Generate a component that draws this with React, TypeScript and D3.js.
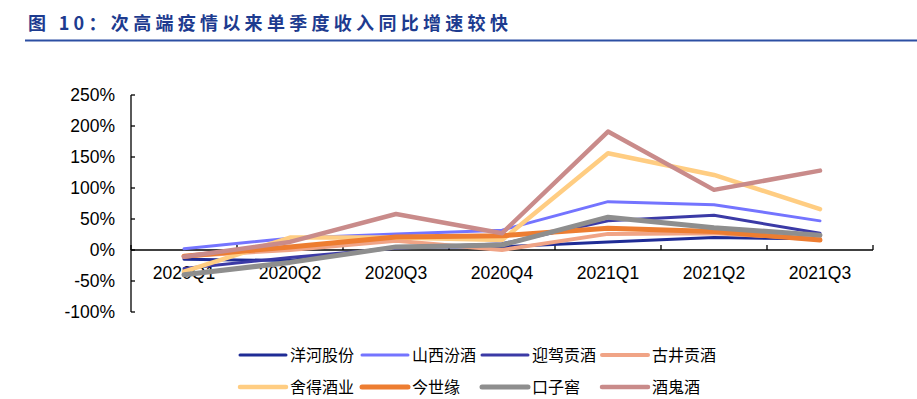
import React from "react";
import * as d3 from "d3";

const categories = ["2020Q1", "2020Q2", "2020Q3", "2020Q4", "2021Q1", "2021Q2", "2021Q3"];
const yTicks = [-100, -50, 0, 50, 100, 150, 200, 250];
const seriesNames = ["洋河股份", "山西汾酒", "迎驾贡酒", "古井贡酒", "舍得酒业", "今世缘", "口子窖", "酒鬼酒"];
const yanghe = [-15, -17, 5, 5, 13, 20, 18];
const fenjiu = [2, 19, 26, 32, 78, 73, 47];
const yingjia = [-30, -12, 3, 10, 47, 56, 27];
const gujing = [-10, 0, 15, 0, 26, 27, 18];
const shede = [-35, 20, 20, 16, 156, 121, 66];
const jinshiyuan = [-10, 5, 21, 23, 35, 30, 16];
const kouzijiao = [-40, -20, 5, 8, 53, 36, 24];
const jiuguijiu = [-11, 13, 58, 27, 191, 97, 128];
const seriesValues = [yanghe, fenjiu, yingjia, gujing, shede, jinshiyuan, kouzijiao, jiuguijiu];
const colors = ["#1f2c96", "#7474ff", "#3b3aa6", "#f0a486", "#ffcd82", "#ed7d31", "#8e8e8e", "#c98b8a"];
const widths = [3, 3, 3, 4, 4.5, 5, 5, 4.5];

const W = 917, H = 399;
const left = 131, right = 873, top = 95, bottom = 312;

export default function App() {
  const x = d3.scaleBand<string>().domain(categories).range([left, right]).padding(0);
  const y = d3.scaleLinear().domain([-100, 250]).range([bottom, top]);
  const cx = (c: string) => (x(c) as number) + x.bandwidth() / 2;
  const line = d3
    .line<number>()
    .x((_, i) => cx(categories[i]))
    .y((v) => y(v));
  const boundaries = categories.map((c) => x(c) as number).concat([right]);
  const font = "'Liberation Sans', Arial, sans-serif";
  const cjk = "'Noto Sans CJK SC', sans-serif";
  const legendX = [240, 362, 482, 602];
  const legendY = [355, 387];
  return (
    <svg width={W} height={H} style={{ position: "absolute", left: 0, top: 0, background: "#fff" }}>
      <rect width={W} height={H} fill="#fff" />
      <text x={28} y={30} fontFamily={cjk} fontWeight="bold" fontSize={18} fill="#1d3b8f" letterSpacing={4.3}>
        图 10：次高端疫情以来单季度收入同比增速较快
      </text>
      <line x1={25} x2={917} y1={40.5} y2={40.5} stroke="#2c4fa3" strokeWidth={2} />
      {/* y axis */}
      <line x1={left} x2={left} y1={top} y2={bottom} stroke="#000" strokeWidth={1.3} />
      {yTicks.map((t) => (
        <g key={t}>
          <line x1={left} x2={left + 4} y1={y(t)} y2={y(t)} stroke="#000" strokeWidth={1.3} />
          <text x={115} y={y(t)} dy="0.36em" textAnchor="end" fontFamily={font} fontSize={17.5} fill="#000">
            {t}%
          </text>
        </g>
      ))}
      {/* x axis */}
      <line x1={left} x2={right} y1={y(0)} y2={y(0)} stroke="#000" strokeWidth={1.3} />
      {boundaries.map((b, i) => (
        <line key={i} x1={b} x2={b} y1={y(0)} y2={y(0) - 5} stroke="#000" strokeWidth={1.3} />
      ))}
      {categories.map((c) => (
        <text key={c} x={cx(c)} y={273} dy="0.36em" textAnchor="middle" fontFamily={font} fontSize={17.5} fill="#000">
          {c}
        </text>
      ))}
      {seriesValues.map((vals, i) => (
        <path
          key={seriesNames[i]}
          d={line(vals) as string}
          fill="none"
          stroke={colors[i]}
          strokeWidth={widths[i]}
          strokeLinejoin="round"
          strokeLinecap="round"
        />
      ))}
      {seriesNames.map((n, i) => {
        const lx = legendX[i % 4];
        const ly = legendY[Math.floor(i / 4)];
        return (
          <g key={n}>
            <line x1={lx} x2={lx + 46} y1={ly} y2={ly} stroke={colors[i]} strokeWidth={widths[i]} strokeLinecap="round" />
            <text x={lx + 50} y={ly} dy="0.36em" fontFamily={cjk} fontSize={16} fill="#000">
              {n}
            </text>
          </g>
        );
      })}
    </svg>
  );
}
